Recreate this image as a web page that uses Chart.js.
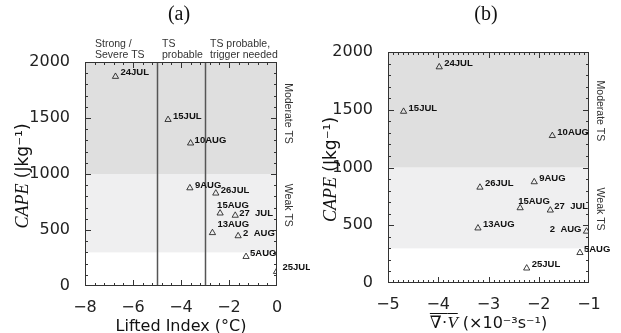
<!DOCTYPE html>
<html>
<head>
<meta charset="utf-8">
<script src="https://cdn.jsdelivr.net/npm/chart.js@4"></script>
<style>
  body { margin: 0; background: #fff; }
  #wrap { position: relative; width: 621px; height: 333px; }
  canvas { position: absolute; top: 0; }
  #panelA { left: 0; }
  #panelB { left: 310px; }
</style>
</head>
<body>
<div id="wrap">
  <canvas id="panelA" width="310" height="333"></canvas>
  <canvas id="panelB" width="311" height="333"></canvas>
</div>
<script>
// case days, with CAPE and the two indices
const days = ["24JUL", "15JUL", "10AUG", "9AUG", "26JUL", "15AUG", "27  JUL", "13AUG", "2  AUG", "5AUG", "25JUL"];
const cape = [1870, 1485, 1275, 875, 828, 650, 630, 475, 447, 262, 128];
const liftedIndex = [-6.73, -4.54, -3.60, -3.63, -2.55, -2.37, -1.74, -2.69, -1.62, -1.29, -0.02];
const divergence = [-3.98, -4.69, -1.73, -2.09, -3.17, -2.37, -1.77, -3.21, -1.05, -1.18, -2.24];

const capeBands = [300, 1000, 2000];
const liLimits = [-5, -3];
const liRegimes = [["Strong /", "Severe TS"], ["TS", "probable"], ["TS probable,", "trigger needed"]];
const capeRegimes = ["Moderate TS", "Weak TS"];

// label offsets in px from each triangle [dx, dy, align]
const offA = [[5,-4],[5,-3],[4,-3],[5,-3],[5,-3],[-3,-8],[4,-2],[5,-8],[5,-3],[4,-3],[6,-4]];
const offB = [[5,-4],[5,-3],[5,-3],[5,-4],[5,-4],[-2,-7],[4,-4],[5,-4],[-5,-2,"right"],[4,-3],[5,-4]];

const SANS = "'DejaVu Sans', sans-serif";
const SERIF = "'Liberation Serif', 'DejaVu Serif', serif";
const LAB = "'Liberation Sans', Arial, sans-serif";

function minus(v) { return String(v).replace("-", "\u2212"); }

function mixed(ctx, parts, cx, cy) {
  let w = 0;
  parts.forEach(p => { ctx.font = p.font; p.w = ctx.measureText(p.text).width; w += p.w; });
  let x = cx - w / 2;
  ctx.textAlign = "left";
  ctx.textBaseline = "alphabetic";
  parts.forEach(p => {
    ctx.font = p.font;
    ctx.fillText(p.text, x, cy);
    if (p.over) {
      ctx.beginPath();
      ctx.lineWidth = 1;
      ctx.moveTo(x, cy - 14.5);
      ctx.lineTo(x + p.w, cy - 14.5);
      ctx.stroke();
    }
    x += p.w;
  });
}

function framePlugin(cfg) {
  return {
    id: "frame" + cfg.name,
    beforeDatasetsDraw(chart) {
      const { ctx, chartArea: a, scales: { x, y } } = chart;
      ctx.save();
      const y300 = y.getPixelForValue(capeBands[0]);
      const y1000 = y.getPixelForValue(capeBands[1]);
      const y2000 = y.getPixelForValue(capeBands[2]);
      ctx.fillStyle = "#efeff0";
      ctx.fillRect(a.left, y1000, a.right - a.left, y300 - y1000);
      ctx.fillStyle = "#dfdfdf";
      ctx.fillRect(a.left, y2000, a.right - a.left, y1000 - y2000);
      if (cfg.lines) {
        ctx.strokeStyle = "#555";
        ctx.lineWidth = 1.5;
        cfg.lines.forEach(v => {
          const px = Math.round(x.getPixelForValue(v)) + 0.5;
          ctx.beginPath();
          ctx.moveTo(px, a.top);
          ctx.lineTo(px, a.bottom);
          ctx.stroke();
        });
      }
      ctx.restore();
    },
    afterDatasetsDraw(chart) {
      const { ctx, chartArea: a, scales: { x, y } } = chart;
      ctx.save();
      ctx.strokeStyle = "#333";
      ctx.lineWidth = 1;
      ctx.strokeRect(a.left + 0.5, a.top + 0.5, a.right - a.left - 1, a.bottom - a.top - 1);
      // inward ticks on all four sides
      function ticks(scale, step, len, horiz) {
        const n = Math.round((scale.max - scale.min) / step);
        ctx.beginPath();
        for (let i = 1; i < n; i++) {
          const v = scale.min + i * step;
          const p = Math.round(scale.getPixelForValue(v)) + 0.5;
          if (horiz) {
            ctx.moveTo(p, a.bottom); ctx.lineTo(p, a.bottom - len);
            ctx.moveTo(p, a.top); ctx.lineTo(p, a.top + len);
          } else {
            ctx.moveTo(a.left, p); ctx.lineTo(a.left + len, p);
            ctx.moveTo(a.right, p); ctx.lineTo(a.right - len, p);
          }
        }
        ctx.stroke();
      }
      ticks(x, cfg.xMinor, 3, true);
      ticks(x, cfg.xMajor, 6, true);
      ticks(y, 100, 3, false);
      ticks(y, 500, 6, false);

      // day labels
      ctx.fillStyle = "#111";
      ctx.font = "bold 9.5px " + LAB;
      ctx.textBaseline = "middle";
      const meta = chart.getDatasetMeta(0);
      meta.data.forEach((pt, i) => {
        const o = cfg.offsets[i];
        ctx.textAlign = o[2] || "left";
        ctx.fillText(days[i], pt.x + o[0], pt.y + o[1]);
      });

      // regime labels on the right
      ctx.fillStyle = "#333";
      ctx.font = "10.5px " + LAB;
      ctx.textAlign = "center";
      cfg.side.forEach((v, i) => {
        ctx.save();
        ctx.translate(a.right + 11, y.getPixelForValue(v));
        ctx.rotate(Math.PI / 2);
        ctx.fillText(capeRegimes[i], 0, 0);
        ctx.restore();
      });
      ctx.restore();
    },
    afterDraw(chart) {
      const { ctx, chartArea: a } = chart;
      ctx.save();
      ctx.fillStyle = "#111";
      ctx.strokeStyle = "#111";
      ctx.font = "20px " + SERIF;
      ctx.textAlign = "center";
      ctx.textBaseline = "middle";
      ctx.fillText(cfg.title, cfg.titleX, 15);

      ctx.save();
      ctx.translate(cfg.yTitleX, (a.top + a.bottom) / 2 + 2);
      ctx.rotate(-Math.PI / 2);
      mixed(ctx, [
        { text: "CAPE", font: "italic 18px " + SERIF },
        { text: " (Jkg\u207B\u00B9)", font: "17px " + SANS }
      ], 0, 6);
      ctx.restore();

      mixed(ctx, cfg.xTitle, (a.left + a.right) / 2, cfg.xTitleY);

      if (cfg.regimes) {
        const { x } = chart.scales;
        ctx.fillStyle = "#333";
        ctx.font = "10.5px " + LAB;
        ctx.textAlign = "left";
        ctx.textBaseline = "middle";
        const starts = [a.left + 10, x.getPixelForValue(liLimits[0]) + 5, x.getPixelForValue(liLimits[1]) + 5];
        liRegimes.forEach((lines, i) => {
          ctx.fillText(lines[0], starts[i], a.top - 18);
          ctx.fillText(lines[1], starts[i], a.top - 7);
        });
      }
      ctx.restore();
    }
  };
}

function makeChart(id, xs, cfg) {
  return new Chart(document.getElementById(id), {
    type: "scatter",
    data: {
      datasets: [{
        data: xs.map((v, i) => ({ x: v, y: cape[i] })),
        pointStyle: "triangle",
        pointRadius: 3.6,
        pointBorderWidth: 0.8,
        pointBackgroundColor: "rgba(0,0,0,0)",
        pointBorderColor: "#111"
      }]
    },
    options: {
      responsive: false,
      animation: false,
      layout: { padding: cfg.padding },
      plugins: { legend: { display: false }, tooltip: { enabled: false } },
      scales: {
        x: {
          type: "linear",
          min: cfg.xMin,
          max: cfg.xMax,
          grid: { display: false },
          border: { display: false },
          ticks: {
            stepSize: cfg.xMajor,
            padding: cfg.xPad,
            color: "#222",
            font: { family: SANS, size: 16 },
            callback: minus
          },
          afterFit: s => { s.height = cfg.xHeight; }
        },
        y: {
          min: 0,
          max: 2000,
          grid: { display: false },
          border: { display: false },
          ticks: {
            stepSize: 500,
            padding: 7,
            color: "#222",
            font: { family: SANS, size: 16 },
            callback: minus
          },
          afterFit: s => { s.width = cfg.yWidth; }
        }
      }
    },
    plugins: [framePlugin(cfg)]
  });
}

makeChart("panelA", liftedIndex, {
  name: "A",
  padding: { left: 0, top: 62, right: 33, bottom: 0 },
  yWidth: 85, xHeight: 47, xPad: 4,
  xMin: -8, xMax: 0, xMajor: 2, xMinor: 0.4,
  lines: liLimits,
  regimes: true,
  offsets: offA,
  side: [1540, 720],
  title: "(a)", titleX: 179,
  yTitleX: 22,
  xTitle: [{ text: "Lifted Index (\u00B0C)", font: "16px " + SANS }],
  xTitleY: 331
});

makeChart("panelB", divergence, {
  name: "B",
  padding: { left: 0, top: 52, right: 32, bottom: 0 },
  yWidth: 78, xHeight: 50, xPad: 4,
  xMin: -5, xMax: -1, xMajor: 1, xMinor: 0.1,
  lines: null,
  regimes: false,
  offsets: offB,
  side: [1490, 640],
  title: "(b)", titleX: 176,
  yTitleX: 20,
  xTitle: [
    { text: "\u2207\u00B7", font: "17px " + SERIF, over: true },
    { text: "V", font: "italic 17px " + SERIF, over: true },
    { text: " (\u00D710\u207B\u00B3s\u207B\u00B9)", font: "16px " + SANS }
  ],
  xTitleY: 328
});
</script>
</body>
</html>
